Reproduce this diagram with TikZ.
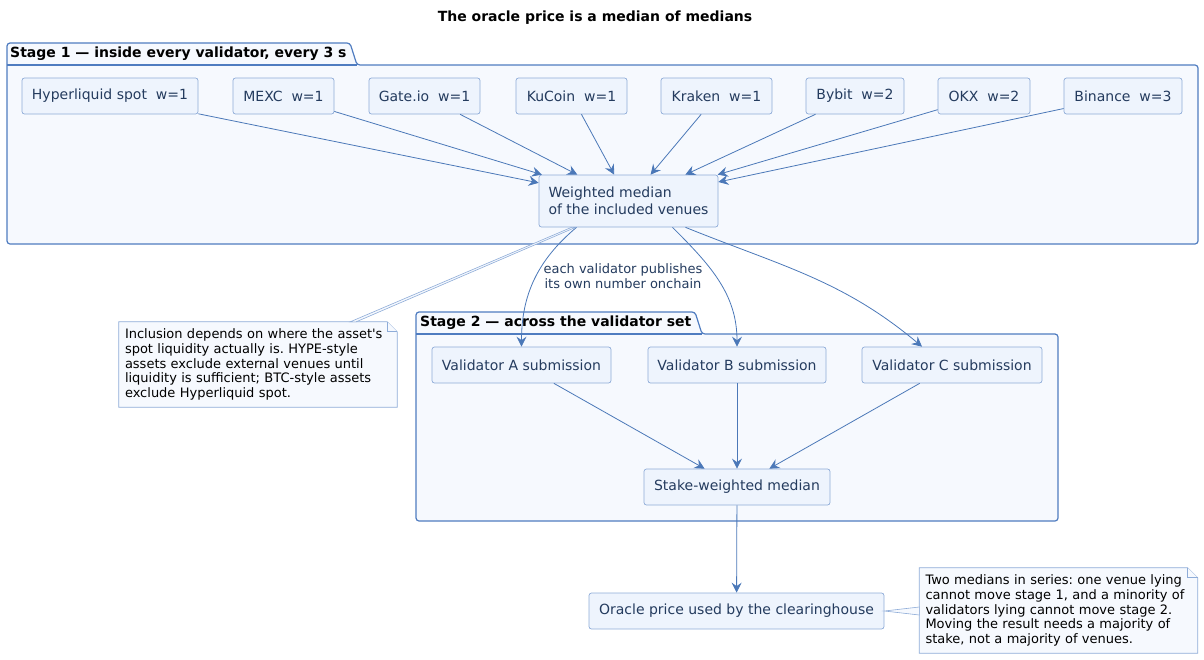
\documentclass[tikz,border=0pt]{standalone}
\usepackage{fontspec}
\setmainfont{DejaVu Sans}
\usetikzlibrary{arrows.meta,backgrounds}
\definecolor{pkgline}{HTML}{4F7CC0}
\definecolor{pkgfill}{HTML}{F6F9FE}
\definecolor{boxfill}{HTML}{EEF4FD}
\definecolor{boxline}{HTML}{8EACD8}
\definecolor{flowline}{HTML}{4B78B8}
\definecolor{navy}{HTML}{243B5E}
\frenchspacing
\begin{document}
\begin{tikzpicture}[x=1pt,y=-1pt,
  box/.style={draw=boxline,fill=boxfill,rounded corners=2.5pt,line width=0.7pt,text=navy,
    font=\fontsize{14}{16.5}\selectfont,minimum height=36pt,inner xsep=3pt},
  flow/.style={flowline,line width=0.8pt,-{Stealth[length=10pt,width=10pt,inset=3.5pt]}},
  pkg/.style={draw=pkgline,fill=pkgfill,line width=1.2pt,rounded corners=3pt},
  pkglabel/.style={font=\bfseries\fontsize{14}{16}\selectfont,inner sep=0pt,anchor=west},
  notebox/.style={draw=boxline,fill=pkgfill,line width=0.7pt},
  notelink/.style={draw=boxline,fill=pkgfill,line width=0.6pt},
  notetext/.style={font=\fontsize{13}{14.8}\selectfont,align=left,text width=266pt,
    inner xsep=6pt,minimum width=278pt,minimum height=85pt},
  lbl/.style={font=\fontsize{13}{14.5}\selectfont,text=navy,align=center}]
\useasboundingbox (0,0) rectangle (1204,659);
\node[font=\bfseries\fontsize{14}{16}\selectfont] (title) at (595,18) {The oracle price is a median of medians};
% stage 1
\draw[pkg] (7,244) -- (7,43) -- (350,43) -- (357,65) -- (1198,65) -- (1198,244) -- cycle;
\draw[pkgline,line width=1.2pt] (7,65) -- (357,65);
\node[pkglabel] (stage1) at (10,54) {Stage 1 — inside every validator, every 3 s};
% stage 2
\draw[pkg] (416,521) -- (416,312) -- (695,312) -- (702,334) -- (1058,334) -- (1058,521) -- cycle;
\draw[pkgline,line width=1.2pt] (416,334) -- (702,334);
\node[pkglabel] (stage2) at (420,323) {Stage 2 — across the validator set};
% venues
\node[box,minimum width=176pt] (hl) at (110,96) {Hyperliquid spot~~w=1};
\node[box,minimum width=101pt] (mexc) at (283.5,96) {MEXC~~w=1};
\node[box,minimum width=111pt] (gate) at (424.5,96) {Gate.io~~w=1};
\node[box,minimum width=111pt] (kucoin) at (571.5,96) {KuCoin~~w=1};
\node[box,minimum width=111pt] (kraken) at (716.5,96) {Kraken~~w=1};
\node[box,minimum width=98pt] (bybit) at (855,96) {Bybit~~w=2};
\node[box,minimum width=92pt] (okx) at (984,96) {OKX~~w=2};
\node[box,minimum width=118pt] (binance) at (1123,96) {Binance~~w=3};
\node[box,minimum width=179pt,minimum height=52pt,align=left] (wm) at (628.5,201) {Weighted median\\of the included venues};
\draw[flow] (hl) edge (wm);
\draw[flow] (mexc) edge (wm);
\draw[flow] (gate) edge (wm);
\draw[flow] (kucoin) edge (wm);
\draw[flow] (kraken) edge (wm);
\draw[flow] (bybit) edge (wm);
\draw[flow] (okx) edge (wm);
\draw[flow] (binance) edge (wm);
% validators
\node[box,minimum width=179pt] (valA) at (521.5,365) {Validator A submission};
\node[box,minimum width=178pt] (valB) at (737,365) {Validator B submission};
\node[box,minimum width=180pt] (valC) at (952,365) {Validator C submission};
\node[box,minimum width=186pt] (swm) at (737,487) {Stake-weighted median};
\node[box,minimum width=295pt] (oracle) at (736.5,611) {Oracle price used by the clearinghouse};
\draw[flow] ([xshift=-52pt]wm.south) to[out=-140,in=90] (valA.north);
\draw[flow] ([xshift=44pt]wm.south) to[out=-45,in=90] (valB.north);
\draw[flow] ([xshift=57pt]wm.south) to[out=-22,in=140] ([xshift=-30pt]valC.north);
\node[lbl] (pub) at (623,276) {each validator publishes\\its own number onchain};
\draw[flow] (valA) edge (swm);
\draw[flow] (valB) edge (swm);
\draw[flow] (valC) edge (swm);
\draw[flow] (swm) edge (oracle);
% notes
\node[notetext] (note1) at (258,364.5) {Inclusion depends on where the asset\textquotesingle s\\spot liquidity actually is. HYPE-style\\assets exclude external venues until\\liquidity is sufficient; BTC-style assets\\exclude Hyperliquid spot.};
\node[notetext] (note2) at (1058.5,610.5) {Two medians in series: one venue lying\\cannot move stage 1, and a minority of\\validators lying cannot move stage 2.\\Moving the result needs a majority of\\stake, not a majority of venues.};
\begin{scope}[on background layer]
\draw[notebox] (note1.north west) -- ([xshift=-10pt]note1.north east) -- ([yshift=-10pt]note1.north east) -- (note1.south east) -- (note1.south west) -- cycle;
\draw[notebox] ([xshift=-10pt]note1.north east) |- ([yshift=-10pt]note1.north east);
\draw[notebox] (note2.north west) -- ([xshift=-10pt]note2.north east) -- ([yshift=-10pt]note2.north east) -- (note2.south east) -- (note2.south west) -- cycle;
\draw[notebox] ([xshift=-10pt]note2.north east) |- ([yshift=-10pt]note2.north east);
\end{scope}
\filldraw[notelink] ([xshift=-47pt]note1.north east) -- ([xshift=-57pt]wm.south) -- ([xshift=-53pt]wm.south) -- ([xshift=-41pt]note1.north east) -- cycle;
\filldraw[notelink] (oracle.east) -- ([yshift=3.5pt]note2.west) -- ([yshift=-4.5pt]note2.west) -- cycle;
\end{tikzpicture}
\end{document}
